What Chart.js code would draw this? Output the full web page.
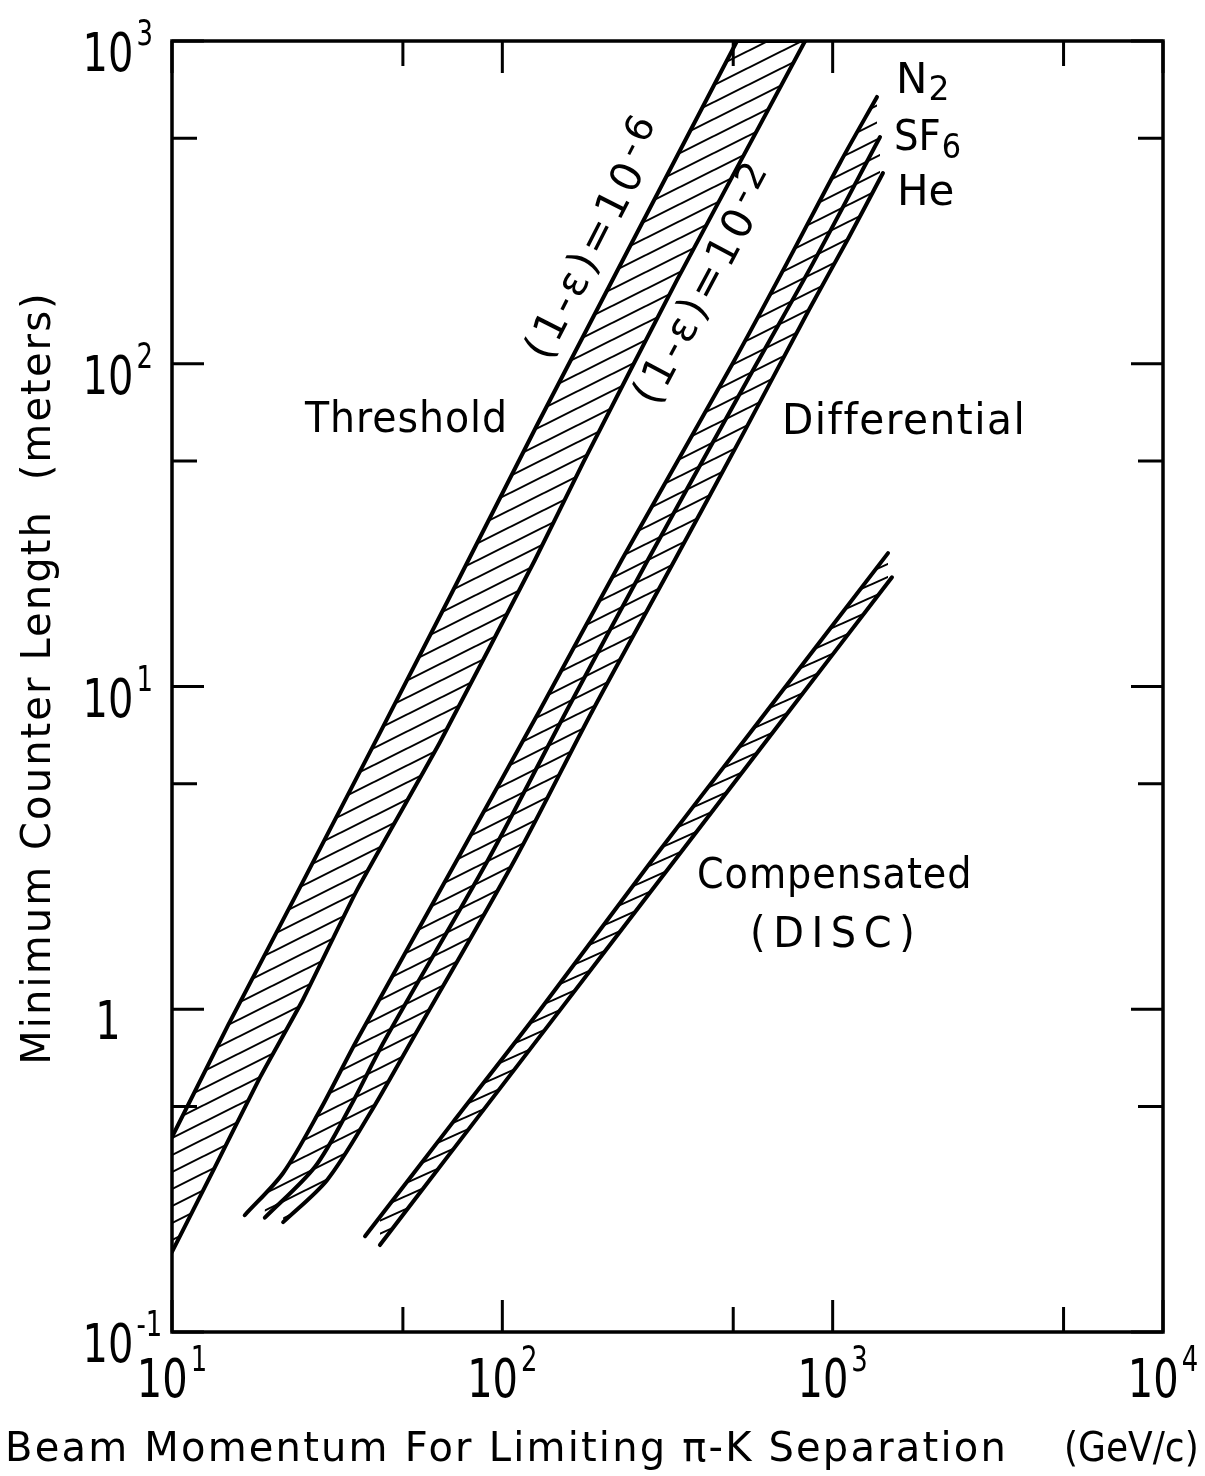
<!DOCTYPE html>
<html>
<head>
<meta charset="utf-8">
<title>Minimum Counter Length</title>
<script src="https://cdn.jsdelivr.net/npm/chart.js@4.4.0/dist/chart.umd.min.js"></script>
<style>
    html, body { margin: 0; padding: 0; background: #fff; }
    #wrap { width: 1205px; height: 1476px; position: relative; }
</style>
</head>
<body>
<div id="wrap"><canvas id="chart_contador"></canvas></div>
<script>
// Axis ticks (GeV/c and meters)
var xTicks = [10, 100, 1000, 10000];
var xTickLabels = ['10^1', '10^2', '10^3', '10^4'];
var xMinorTicks = [50, 500, 5000];
var yTicks = [0.1, 1, 10, 100, 1000];
var yTickLabels = ['10^-1', '1', '10^1', '10^2', '10^3'];
var yMinorTicks = [0.5, 5, 50, 500];

// Threshold counter, (1-e) = 10^-6 and 10^-2
var thr6P = [10, 14.8, 23.9, 42.6, 68.5, 127.4, 238.5, 513.5, 825];
var thr6L = [0.402, 0.894, 2.29, 7.18, 18.5, 64.6, 222, 1000, 1000];
var thr2P = [10, 13.5, 18.5, 24.9, 36.3, 64.8, 125.6, 175.5, 338, 825];
var thr2L = [0.177, 0.325, 0.617, 1.07, 2.34, 6.73, 24.7, 49.3, 182, 1000];

// Differential counter, one curve per gas
var n2P = [16.6, 21.7, 28.1, 36.3, 72.9, 130, 230, 499, 727, 1052, 1362];
var n2L = [0.23, 0.311, 0.488, 0.803, 2.90, 8.46, 24.7, 100.5, 205, 419, 671];
var sf6P = [19.1, 27.1, 34.6, 44.1, 90.5, 157, 276, 590, 872, 1391];
var sf6L = [0.226, 0.325, 0.498, 0.803, 2.90, 8.46, 24.7, 100.5, 205, 504];
var heP = [21.7, 29.5, 39.8, 53.3, 109, 188, 333, 543, 848, 1121, 1420];
var heL = [0.219, 0.296, 0.477, 0.803, 2.90, 8.46, 24.7, 62.3, 147, 247, 390];

// Compensated (DISC)
var discAP = [38.4, 70.9, 130, 280, 562, 1471];
var discAL = [0.198, 0.447, 0.995, 2.84, 7.18, 25.9];
var discBP = [42.6, 69.4, 149.5, 280, 693, 1512];
var discBL = [0.186, 0.357, 0.994, 2.30, 7.71, 21.8];

var FONT = '"DejaVu Sans", sans-serif';

function puntos(p, l) {
    return p.map(function (v, i) { return { x: v, y: l[i] }; });
}

// diagonal hatch tile, stripes rising to the right
function rayado(alto, ancho, grosor) {
    var c = document.createElement('canvas');
    c.width = ancho;
    c.height = alto;
    var g = c.getContext('2d');
    g.strokeStyle = '#000';
    g.lineWidth = grosor;
    g.beginPath();
    for (var k = -1; k <= 1; k++) {
        g.moveTo(-ancho, alto * (2 + k));
        g.lineTo(2 * ancho, alto * (k - 1));
    }
    g.stroke();
    return g.createPattern(c, 'repeat');
}

var rayaAncha = rayado(17, 34, 2);
var rayaFina = rayado(13, 29, 2);

function curva(p, l, relleno, patron, suave) {
    return {
        data: puntos(p, l),
        borderColor: '#000',
        borderWidth: 4,
        borderJoinStyle: 'round',
        borderCapStyle: 'round',
        pointRadius: 0,
        tension: suave === undefined ? 0.3 : suave,
        fill: relleno,
        backgroundColor: patron || 'rgba(0,0,0,0)'
    };
}

// text with an optional ^super or _sub part; squeeze narrows the glyphs
function texto(ctx, str, x, y, size, o) {
    o = o || {};
    var k = o.squeeze || 1;
    var gap = o.gap || 0;
    var m = str.match(/^([^_^]*)(?:([_^])(.*))?$/);
    var base = m[1], tipo = m[2], resto = m[3] || '';
    var small = Math.round(size * (o.scale || 0.62));
    ctx.letterSpacing = (o.spacing || 0) + 'px';
    ctx.font = size + 'px ' + FONT;
    var wb = ctx.measureText(base).width;
    ctx.font = small + 'px ' + FONT;
    var we = resto ? ctx.measureText(resto).width : 0;
    var total = (wb + gap + we) * k;
    var x0 = x;
    if (o.align === 'center') x0 = x - total / 2;
    if (o.align === 'right') x0 = x - total;
    ctx.save();
    ctx.translate(x0, y);
    ctx.scale(k, 1);
    ctx.textAlign = 'left';
    ctx.textBaseline = 'alphabetic';
    ctx.font = size + 'px ' + FONT;
    ctx.fillText(base, 0, 0);
    if (resto) {
        var dy = tipo === '^' ? -(o.rise || size * 0.45) : (o.drop || size * 0.3);
        ctx.font = small + 'px ' + FONT;
        ctx.fillText(resto, wb + gap, dy);
    }
    ctx.restore();
    return wb * k;
}

var anotaciones = [
    { t: 'Threshold', x: 305, y: 432, spacing: 1, squeeze: 0.94 },
    { t: 'Differential', x: 782, y: 434, spacing: 1.5, squeeze: 0.97 },
    { t: 'Compensated', x: 697, y: 888, spacing: 1, squeeze: 0.91 },
    { t: '(DISC)', x: 750, y: 947, spacing: 8, squeeze: 0.95 },
    { t: 'N_2', x: 896, y: 93, scale: 0.78, drop: 7, gap: 1 },
    { t: 'SF_6', x: 894, y: 150, scale: 0.78, drop: 8, gap: 1, squeeze: 0.92 },
    { t: 'He', x: 897, y: 205 }
];

var marco = {
    id: 'marco',
    afterDraw: function (chart) {
        var ctx = chart.ctx, a = chart.chartArea;
        var sx = chart.scales.x, sy = chart.scales.y;
        ctx.save();
        ctx.strokeStyle = '#000';
        ctx.fillStyle = '#000';
        ctx.lineWidth = 3.5;
        ctx.strokeRect(a.left, a.top, a.right - a.left, a.bottom - a.top);

        // ticks pointing inwards on every side
        ctx.lineWidth = 3;
        ctx.beginPath();
        xTicks.concat(xMinorTicks).forEach(function (v) {
            var len = xTicks.indexOf(v) >= 0 ? 32 : 25;
            var px = sx.getPixelForValue(v);
            ctx.moveTo(px, a.bottom); ctx.lineTo(px, a.bottom - len);
            ctx.moveTo(px, a.top); ctx.lineTo(px, a.top + len);
        });
        yTicks.concat(yMinorTicks).forEach(function (v) {
            var len = yTicks.indexOf(v) >= 0 ? 32 : 25;
            var py = sy.getPixelForValue(v);
            ctx.moveTo(a.left, py); ctx.lineTo(a.left + len, py);
            ctx.moveTo(a.right, py); ctx.lineTo(a.right - len, py);
        });
        ctx.stroke();

        // tick labels
        var tk = { rise: 26, gap: 4, scale: 0.64, squeeze: 0.74 };
        xTicks.forEach(function (v, i) {
            texto(ctx, xTickLabels[i], sx.getPixelForValue(v), 1397, 54,
                Object.assign({ align: 'center' }, tk));
        });
        yTicks.forEach(function (v, i) {
            var py = sy.getPixelForValue(v);
            var lab = yTickLabels[i];
            ctx.letterSpacing = '0px';
            ctx.font = '54px ' + FONT;
            var wb = ctx.measureText(lab.split('^')[0]).width * tk.squeeze;
            texto(ctx, lab, 108 - wb / 2, py + 30, 54, tk);
        });

        // axis titles
        texto(ctx, 'Beam Momentum For Limiting \u03c0-K Separation', 5, 1461, 40, { spacing: 2.2 });
        texto(ctx, '(GeV/c)', 1064, 1461, 40, { squeeze: 0.9 });
        ctx.save();
        ctx.translate(50, 678);
        ctx.rotate(-Math.PI / 2);
        texto(ctx, 'Minimum Counter Length  (meters)', 0, 0, 40, { align: 'center', spacing: 2.1 });
        ctx.restore();

        // curve labels
        anotaciones.forEach(function (n) {
            texto(ctx, n.t, n.x, n.y, 42, n);
        });
        [['(1-\u03b5)=10^-6', 595, 237, -63], ['(1-\u03b5)=10^-2', 705, 283, -62]].forEach(function (r) {
            ctx.save();
            ctx.translate(r[1], r[2]);
            ctx.rotate(r[3] * Math.PI / 180);
            texto(ctx, r[0], 0, 15, 42, { align: 'center', spacing: 4, scale: 0.9, rise: 12, gap: 2 });
            ctx.restore();
        });
        ctx.restore();
    }
};

var config_contador = {
    type: 'line',
    data: {
        datasets: [
            curva(thr6P, thr6L, '+1', rayaAncha, 0),
            curva(thr2P, thr2L, false, null, 0.15),
            curva(n2P, n2L, '+1', rayaAncha),
            curva(sf6P, sf6L, '+1', rayaAncha),
            curva(heP, heL, false),
            curva(discAP, discAL, '+1', rayaFina),
            curva(discBP, discBL, false)
        ]
    },
    options: {
        responsive: true,
        maintainAspectRatio: false,
        animation: false,
        layout: { padding: { top: 41, right: 42, left: 0, bottom: 0 } },
        plugins: {
            legend: { display: false },
            tooltip: { enabled: false },
            filler: { propagate: false }
        },
        scales: {
            x: {
                type: 'logarithmic', min: 10, max: 10000,
                grid: { display: false }, border: { display: false },
                ticks: { display: false },
                afterFit: function (s) { s.height = 144; }
            },
            y: {
                type: 'logarithmic', min: 0.1, max: 1000,
                grid: { display: false }, border: { display: false },
                ticks: { display: false },
                afterFit: function (s) { s.width = 172; }
            }
        }
    },
    plugins: [marco]
};

var chart_contador = new Chart(document.getElementById('chart_contador'), config_contador);
</script>
</body>
</html>
